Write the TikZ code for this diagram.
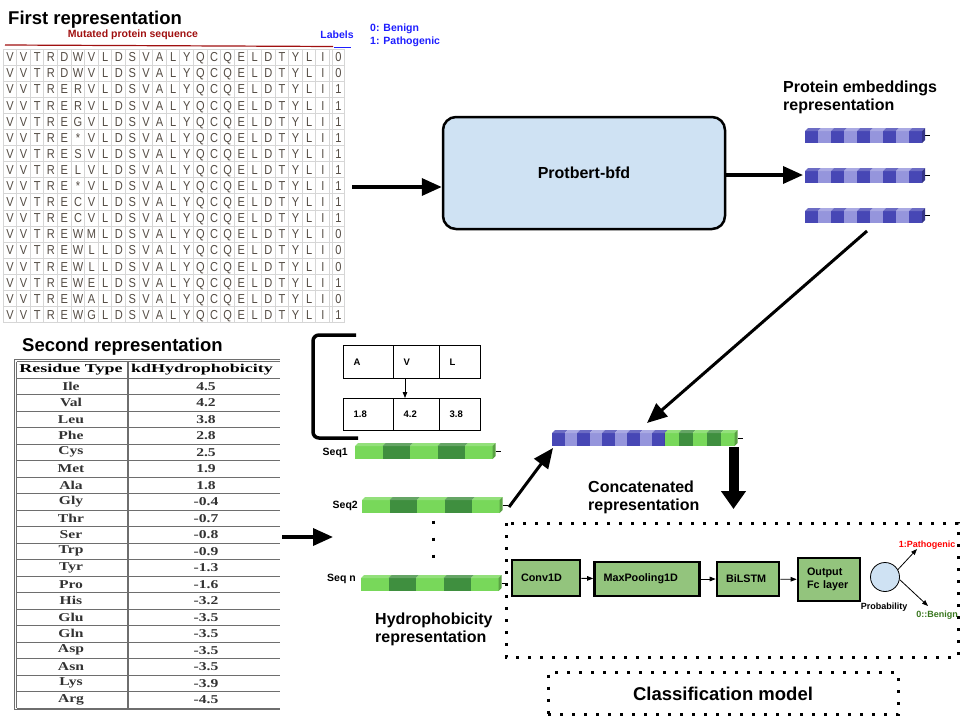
\documentclass[tikz,border=0pt]{standalone}
\usepackage{fontspec}
\setmainfont{Liberation Sans}
\newfontfamily\seqfont[FakeStretch=0.85]{Liberation Sans}
\newfontfamily\tabfont[FakeStretch=1.5]{Liberation Serif}
\newfontfamily\tabdata[FakeStretch=1.3]{Liberation Serif}
\usetikzlibrary{calc, positioning, arrows.meta}
\definecolor{protBlue}{HTML}{CFE2F3}
\definecolor{layerGreen}{HTML}{93C47D}
\definecolor{embDark}{HTML}{4747B5}
\definecolor{embLight}{HTML}{9595DC}
\definecolor{seqLight}{HTML}{78D85A}
\definecolor{seqDark}{HTML}{3F8F3F}
\definecolor{mutRed}{HTML}{A01010}
\definecolor{lblBlue}{HTML}{1E1EFF}
\definecolor{letterGray}{HTML}{544C44}
\definecolor{gridGray}{HTML}{D6D6D6}
\definecolor{tabLine}{HTML}{6E6E6E}
\definecolor{benignGreen}{HTML}{38761D}
\tikzset{
  hdr/.style={font=\bfseries\fontsize{18.5}{20}\selectfont, inner sep=0pt},
  subHdr/.style={font=\bfseries\fontsize{16}{18}\selectfont, align=left, inner sep=0pt},
  tinyLbl/.style={font=\bfseries\fontsize{10.5}{12.5}\selectfont, inner sep=0pt},
  probLbl/.style={font=\bfseries\fontsize{9}{11}\selectfont, inner sep=0pt},
  seqChar/.style={font=\seqfont\fontsize{13}{14}\selectfont, text=letterGray, inner sep=0pt, anchor=base},
  tabTxt/.style={font=\tabdata\bfseries\fontsize{12}{13}\selectfont, text=black!80, inner sep=0pt},
  tabHdr/.style={font=\tabfont\bfseries\fontsize{12}{13}\selectfont, inner sep=0pt},
  cellBox/.style={draw, line width=1.2pt, anchor=north west, inner xsep=10pt, inner ysep=0pt,
    text width=#1, align=left, font=\bfseries\fontsize{9.5}{11}\selectfont},
  layerBox/.style={draw, line width=2.6pt, fill=layerGreen, align=left, inner xsep=9pt,
    font=\bfseries\fontsize{10.8}{13}\selectfont},
  arr/.style={-{Triangle[length=6pt, width=4.5pt]}, line width=0.9pt},
  bigArr/.style={-{Triangle[length=20pt, width=17pt]}, line width=3.5pt},
  dotBox/.style={line width=3pt, dash pattern=on 3pt off 9pt},
}
\def\ColW{13.6}
\def\RowH{16.1}
\def\TRowH{16.5}

% cube bar: x, y (front top), segments, segment width, height, colour A, colour B
\newcommand{\cubebar}[7]{%
  \foreach \k in {1,...,#3}{%
    \pgfmathsetmacro{\xa}{#1+(\k-1)*#4}%
    \ifodd\k\relax\def\cg{#6}\else\def\cg{#7}\fi
    \fill[\cg] (\xa,#2) rectangle ++(#4,#5);
    \fill[\cg!80!white] (\xa,#2) -- ++(3,-3) -- ++(#4,0) -- ++(-3,3) -- cycle;
  }%
  \pgfmathsetmacro{\xb}{#1+#3*#4}%
  \fill[#6!75!black] (\xb,#2) -- ++(3,-3) -- ++(0,#5) -- ++(-3,3) -- cycle;
  \draw[line width=0.7pt] (\xb+3,#2+#5/2-1.5) -- ++(5,0);
}

\begin{document}
\begin{tikzpicture}[x=1pt, y=-1pt]
  \useasboundingbox (0,0) rectangle (960,720);

  % ----- first representation -----
  \node[hdr, anchor=west] (firstHdr) at (8,20) {First representation};
  \node[tinyLbl, text=mutRed] (mutLbl) at (133,35) {Mutated protein sequence};
  \node[tinyLbl, text=lblBlue] (labLbl) at (337,35) {Labels};
  \node[tinyLbl, text=lblBlue, anchor=west] (ben) at (370,29) {0: Benign};
  \node[tinyLbl, text=lblBlue, anchor=west] (pat) at (370,42) {1: Pathogenic};
  \draw[mutRed, line width=1.2pt] (5,45) -- (333,46.5);
  \draw[lblBlue, line width=1.2pt] (334,47.5) -- (351,47.5);

  % grid
  \foreach \i in {0,...,17}
    \draw[gridGray, line width=1pt] (3,{49+\i*\RowH}) -- (344,{49+\i*\RowH});
  \foreach \j in {0,...,24}
    \draw[gridGray, line width=1pt] ({3+\j*\ColW},49) -- ({3+\j*\ColW},{49+17*\RowH});
  \draw[gridGray, line width=1pt] (332.6,49) -- (332.6,{49+17*\RowH});
  \draw[gridGray, line width=1pt] (344,49) -- (344,{49+17*\RowH});

  % letters
  \foreach \row in {1,...,17}{
    \foreach \ch [count=\col from 0] in {V,V,T,R}
      \node[seqChar] (s-\row-\col) at ({10+\col*\ColW},{61.7+(\row-1)*\RowH}) {\ch};
    \foreach \ch [count=\col from 7] in {L,D,S,V,A,L,Y,Q,C,Q,E,L,D,T,Y,L,I}
      \node[seqChar] (s-\row-\col) at ({10+\col*\ColW},{61.7+(\row-1)*\RowH}) {\ch};
  }
  \foreach \pa/\pb/\pc/\lab [count=\row] in {D/W/V/0, D/W/V/0, E/R/V/1, E/R/V/1, E/G/V/1,
      E/*/V/1, E/S/V/1, E/L/V/1, E/*/V/1, E/C/V/1, E/C/V/1, E/W/M/0, E/W/L/0, E/W/L/0,
      E/W/E/1, E/W/A/0, E/W/G/1}{
    \node[seqChar] (s-\row-4) at ({10+4*\ColW},{61.7+(\row-1)*\RowH}) {\pa};
    \node[seqChar] (s-\row-5) at ({10+5*\ColW},{61.7+(\row-1)*\RowH}) {\pb};
    \node[seqChar] (s-\row-6) at ({10+6*\ColW},{61.7+(\row-1)*\RowH}) {\pc};
    \node[seqChar] (lab-\row) at (338.5,{61.7+(\row-1)*\RowH}) {\lab};
  }
  \coordinate (t1E) at (352,187);

  % ----- protbert -----
  \node[draw, line width=2.5pt, rounded corners=13pt, fill=protBlue, minimum width=282pt,
    minimum height=112pt, font=\bfseries\fontsize{16}{18}\selectfont] (prot) at (584,173) {Protbert-bfd};
  \draw[bigArr] (t1E) -- (prot.west |- t1E);

  % ----- protein embeddings -----
  \node[subHdr, anchor=west] (embHdr) at (783,97) {Protein embeddings\\representation};
  \cubebar{805}{131}{9}{13}{12}{embDark}{embLight}
  \cubebar{805}{171}{9}{13}{12}{embDark}{embLight}
  \cubebar{805}{211}{9}{13}{12}{embDark}{embLight}
  \coordinate (emb2W) at (803,175);
  \coordinate (emb3S) at (867,231);
  \draw[bigArr] (prot.east |- emb2W) -- (emb2W);

  % ----- second representation -----
  \node[hdr, anchor=west] (secHdr) at (22,347) {Second representation};
  \draw[tabLine, line width=1pt] (14,359) -- (280,359);
  \draw[tabLine, line width=1pt] (16.5,361.5) -- (280,361.5);
  \foreach \i in {0,...,20}
    \draw[tabLine, line width=1pt] (16.5,{378+\i*\TRowH}) -- (280,{378+\i*\TRowH});
  \draw[tabLine, line width=1pt] (14,359) -- (14,709);
  \draw[tabLine, line width=1pt] (16.5,361.5) -- (16.5,708);
  \draw[tabLine, line width=1.6pt] (128,361.5) -- (128,708);
  \draw[tabLine, line width=1pt] (14,709) -- (280,709);
  \node[tabHdr] (resHdr) at (71,369.5) {Residue Type};
  \node[tabHdr, anchor=west] (kdHdr) at (131,369.5) {kdHydrophobicity};
  \foreach \res/\val [count=\row] in {Ile/4.5, Val/4.2, Leu/3.8, Phe/2.8, Cys/2.5, Met/1.9,
      Ala/1.8, Gly/-0.4, Thr/-0.7, Ser/-0.8, Trp/-0.9, Tyr/-1.3, Pro/-1.6, His/-3.2,
      Glu/-3.5, Gln/-3.5, Asp/-3.5, Asn/-3.5, Lys/-3.9, Arg/-4.5}{
    \node[tabTxt] (res-\row) at (71,{378+(\row-0.5)*\TRowH}) {\res};
    \node[tabTxt] (kd-\row) at (206,{378+(\row-0.5)*\TRowH}) {\val};
  }
  \coordinate (t2E) at (282,537);
  \coordinate (hydW) at (333,537);
  \draw[bigArr] (t2E) -- (hydW);

  % ----- hydrophobicity lookup -----
  \draw[line width=3.5pt, rounded corners=6pt] (356,335) -- (313,335) -- (313,438) -- (358,438);
  \node[cellBox=30pt, minimum height=33pt] (cA) at (343,345) {A};
  \node[cellBox=26pt, minimum height=33pt] (cV) at (393,345) {V};
  \node[cellBox=21pt, minimum height=33pt] (cL) at (439,345) {L};
  \node[cellBox=30pt, minimum height=32pt] (v18) at (343,398) {1.8};
  \node[cellBox=26pt, minimum height=32pt] (v42) at (393,398) {4.2};
  \node[cellBox=21pt, minimum height=32pt] (v38) at (439,398) {3.8};
  \draw[arr, line width=0.8pt] ($(cV.south west)+(12,0)$) -- ($(v42.north west)+(12,0)$);

  % ----- hydrophobicity sequences -----
  \cubebar{355}{446}{5}{27.5}{13}{seqLight}{seqDark}
  \cubebar{362}{500}{5}{27.5}{13}{seqLight}{seqDark}
  \cubebar{361}{578}{5}{27.5}{13}{seqLight}{seqDark}
  \node[tinyLbl, anchor=east] (seq1) at (348,453) {Seq1};
  \node[tinyLbl, anchor=east] (seq2) at (358,506) {Seq2};
  \node[tinyLbl, anchor=east] (seqN) at (356,579) {Seq n};
  \draw[line width=3pt, dash pattern=on 3pt off 14pt] (433,520.5) -- (433,558);
  \node[subHdr, anchor=west] (hydHdr) at (375,629) {Hydrophobicity\\representation};
  \coordinate (seq2E) at (509,507);

  % ----- concatenated -----
  \cubebar{552}{433}{9}{12.5}{13}{embDark}{embLight}
  \cubebar{664.5}{433}{5}{14}{13}{seqLight}{seqDark}
  \coordinate (catTop) at (647,423);
  \coordinate (catW) at (553,448);
  \coordinate (catS) at (733.5,447);
  \draw[bigArr, line width=3pt] (emb3S) -- (catTop);
  \draw[bigArr, line width=3pt] (seq2E) -- (catW);
  \node[subHdr, anchor=west] (catHdr) at (588,497) {Concatenated\\representation};
  \coordinate (clsN) at (733.5,509);
  \draw[line width=10pt, -{Triangle[length=18pt, width=24pt]}] (catS) -- (clsN);

  % ----- classification model -----
  \draw[dotBox] (506,523) rectangle (958,657);
  \node[layerBox, text width=50pt, minimum height=36pt] (conv) at (546,578) {Conv1D};
  \node[layerBox, text width=87pt, minimum height=34pt] (maxp) at (647,579) {MaxPooling1D};
  \node[layerBox, text width=44pt, minimum height=34pt] (bilstm) at (748,579) {BiLSTM};
  \node[layerBox, text width=44pt, minimum height=43pt] (outFc) at (829,579.5) {Output\\Fc layer};
  \draw[arr] (conv) -- (maxp);
  \draw[arr] (maxp) -- (bilstm);
  \draw[arr] (bilstm) -- (outFc);
  \node[circle, draw, line width=0.8pt, fill=protBlue, minimum size=29pt, inner sep=0pt] (prob) at (885,577) {};
  \node[probLbl] (probTxt) at (884,607) {Probability};
  \node[probLbl, text=red] (pathTxt) at (927,545) {1:Pathogenic};
  \node[probLbl, text=benignGreen] (benTxt) at (937,615) {0::Benign};
  \coordinate (pathTip) at (917,549);
  \coordinate (benTip) at (928,606);
  \draw[arr, line width=0.8pt] (prob.30) -- (pathTip);
  \draw[arr, line width=0.8pt] (prob.-10) -- (benTip);
  \node[draw, dotBox, minimum width=350pt, minimum height=42pt,
    font=\bfseries\fontsize{18.5}{20}\selectfont] (clsLbl) at (723,693.5) {Classification model};
\end{tikzpicture}
\end{document}
